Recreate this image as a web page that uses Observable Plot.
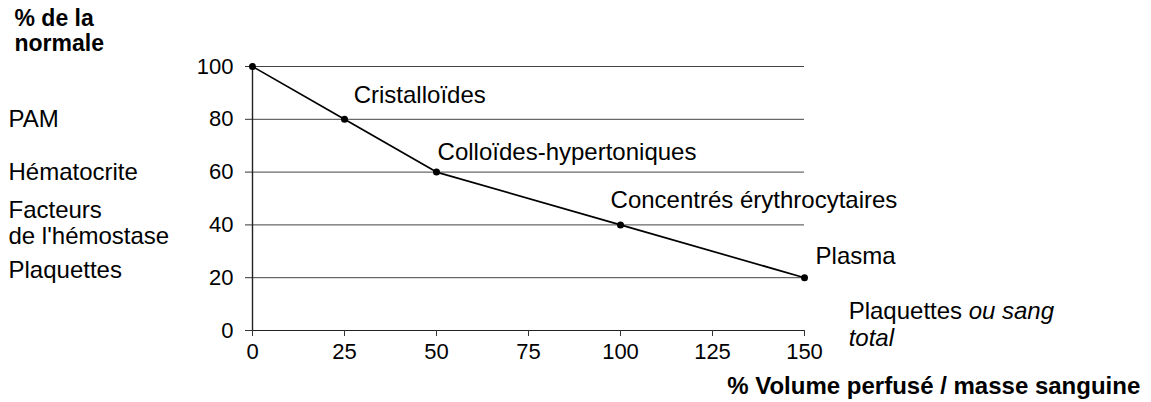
<!DOCTYPE html>
<html><head><meta charset="utf-8">
<script src="https://cdn.jsdelivr.net/npm/d3@7"></script>
<script src="https://cdn.jsdelivr.net/npm/@observablehq/plot@0.6"></script>
<style>body{margin:0;background:#fff;} #chart svg{display:block}</style>
</head><body><div id="chart"></div>
<script>
// Data
const volume = [0, 25, 50, 100, 150];
const percent = [100, 80, 60, 40, 20];
const xTicks = [0, 25, 50, 75, 100, 125, 150];
const yTicks = [0, 20, 40, 60, 80, 100];
const gridValues = [20, 40, 60, 80, 100];
const productLabels = ["Cristalloïdes", "Colloïdes-hypertoniques", "Concentrés érythrocytaires", "Plasma"];
const productX = [27.5, 50.3, 97.3, 153];
const productY = [89, 67.4, 49.2, 28];
const paramLabels = ["PAM", "Hématocrite", "Facteurs", "de l'hémostase", "Plaquettes"];
const paramY = [80, 60, 45.5, 35.5, 22.7];
const yTitleLines = ["% de la", "normale"];
const yTitleY = [118, 108.5];
const lastLabelParts = ["Plaquettes", "ou sang", "total"];
const lastLabelX = [162, 194.6, 162];
const lastLabelY = [7.2, 7.2, -2.9];
const lastLabelItalic = [false, true, true];
const xTitle = "% Volume perfusé / masse sanguine";
const xTitleX = 129, xTitleY = -21;

const points = volume.map((v, i) => ({v, p: percent[i]}));
const products = productLabels.map((t, i) => ({t, x: productX[i], y: productY[i]}));
const params = paramLabels.map((t, i) => ({t, y: paramY[i]}));
const yTitle = yTitleLines.map((t, i) => ({t, y: yTitleY[i]}));
const lastParts = lastLabelParts.map((t, i) => ({t, x: lastLabelX[i], y: lastLabelY[i], it: lastLabelItalic[i]}));

const ink = "#000";
const chart = Plot.plot({
  width: 1151, height: 402,
  marginLeft: 252, marginRight: 347, marginTop: 66, marginBottom: 72,
  x: {domain: [0, 150]},
  y: {domain: [0, 100]},
  style: {fontFamily: "'Liberation Sans', Arial, Helvetica, sans-serif", fontSize: "24px", color: ink, background: "#fff", overflow: "visible"},
  marks: [
    Plot.ruleY(gridValues, {x1: 0, x2: 150, stroke: "#444", strokeWidth: 1}),
    Plot.ruleY([0], {x1: 0, x2: 150, stroke: "#222", strokeWidth: 1.2}),
    Plot.ruleX([0], {y1: 0, y2: 101, stroke: "#222", strokeWidth: 1.4}),
    Plot.axisY({ticks: yTicks, tickSize: 7, tickPadding: 12, fontSize: 22, stroke: "#333", label: null}),
    Plot.axisX({ticks: xTicks, tickSize: 6, tickPadding: 7, fontSize: 22, stroke: "#333", label: null}),
    Plot.line(points, {x: "v", y: "p", stroke: ink, strokeWidth: 1.7}),
    Plot.dot(points, {x: "v", y: "p", r: 3.5, fill: ink}),
    Plot.text(products, {x: "x", y: "y", text: "t", textAnchor: "start", fontSize: 24, fill: ink}),
    Plot.text(params, {y: "y", text: "t", frameAnchor: "left", dx: -244, textAnchor: "start", fontSize: 24, fill: ink}),
    Plot.text(yTitle, {y: "y", text: "t", frameAnchor: "left", dx: -238, textAnchor: "start", fontSize: 23, fontWeight: "bold", fill: ink}),
    Plot.text(lastParts.filter(d => !d.it), {x: "x", y: "y", text: "t", textAnchor: "start", fontSize: 24, fill: ink}),
    Plot.text(lastParts.filter(d => d.it), {x: "x", y: "y", text: "t", textAnchor: "start", fontSize: 24, fontStyle: "italic", fill: ink}),
    Plot.text([xTitle], {x: xTitleX, y: xTitleY, text: d => d, textAnchor: "start", fontSize: 24, fontWeight: "bold", fill: ink})
  ]
});
document.getElementById("chart").appendChild(chart);
</script>
</body></html>
